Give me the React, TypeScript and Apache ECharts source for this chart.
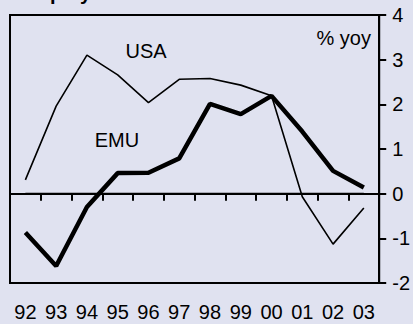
import React, { useEffect, useRef } from "react";
import * as echarts from "echarts";

const years = ["92", "93", "94", "95", "96", "97", "98", "99", "00", "01", "02", "03"];
const usa = [0.31, 1.96, 3.1, 2.66, 2.04, 2.56, 2.58, 2.43, 2.19, -0.07, -1.13, -0.32];
const emu = [-0.87, -1.62, -0.3, 0.46, 0.47, 0.79, 2.01, 1.78, 2.19, 1.39, 0.51, 0.14];
const zeroLine = [0, 0, 0, 0, 0, 0, 0, 0, 0, 0, 0, 0];
const yTicks = [-2, -1, 0, 1, 2, 3, 4];

const FONT = "'Liberation Sans', Arial, sans-serif";

export default function App() {
  const ref = useRef<HTMLDivElement>(null);
  useEffect(() => {
    if (!ref.current) return;
    const chart = echarts.init(ref.current, undefined, { renderer: "svg" });
    chart.setOption({
      animation: false,
      backgroundColor: "#E0E2F0",
      textStyle: { fontFamily: FONT },
      grid: {
        left: 10,
        right: 29,
        top: 15,
        bottom: 41,
        show: true,
        borderColor: "#000",
        borderWidth: 2,
        backgroundColor: "transparent",
      },
      xAxis: {
        type: "category",
        data: years,
        boundaryGap: true,
        axisLine: { show: true, lineStyle: { color: "#000", width: 2 } },
        axisTick: { show: true, inside: false, length: 7, lineStyle: { color: "#000", width: 2 } },
        axisLabel: { color: "#000", fontSize: 20, fontFamily: FONT, margin: 19, interval: 0 },
        splitLine: { show: false },
      },
      yAxis: {
        type: "value",
        position: "right",
        min: yTicks[0],
        max: yTicks[yTicks.length - 1],
        interval: 1,
        axisLine: { show: true, lineStyle: { color: "#000", width: 2 } },
        axisTick: { show: true, inside: false, length: 7, lineStyle: { color: "#000", width: 2 } },
        axisLabel: { color: "#000", fontSize: 20, fontFamily: FONT, margin: 13 },
        splitLine: { show: false },
      },
      series: [
        {
          name: "zero",
          type: "line",
          data: zeroLine,
          symbol: "none",
          lineStyle: { color: "#000", width: 2 },
          z: 1,
        },
        {
          name: "USA",
          type: "line",
          data: usa,
          symbol: "none",
          lineStyle: { color: "#000", width: 1.6 },
          z: 2,
        },
        {
          name: "EMU",
          type: "line",
          data: emu,
          symbol: "none",
          lineStyle: { color: "#000", width: 4.5 },
          z: 3,
        },
      ],
      graphic: [
        {
          type: "text",
          left: 19,
          top: -17,
          style: { text: "Employment", font: `bold 20px ${FONT}`, fill: "#000" },
        },
        {
          type: "text",
          x: 146,
          y: 51,
          style: { text: "USA", font: `20px ${FONT}`, fill: "#000", align: "center", verticalAlign: "middle" },
        },
        {
          type: "text",
          x: 117,
          y: 140,
          style: { text: "EMU", font: `20px ${FONT}`, fill: "#000", align: "center", verticalAlign: "middle" },
        },
        {
          type: "text",
          x: 371,
          y: 38,
          style: { text: "% yoy", font: `20px ${FONT}`, fill: "#000", align: "right", verticalAlign: "middle" },
        },
      ],
    });
    return () => chart.dispose();
  }, []);
  return <div ref={ref} style={{ width: 413, height: 324, position: "absolute", left: 0, top: 0 }} />;
}
